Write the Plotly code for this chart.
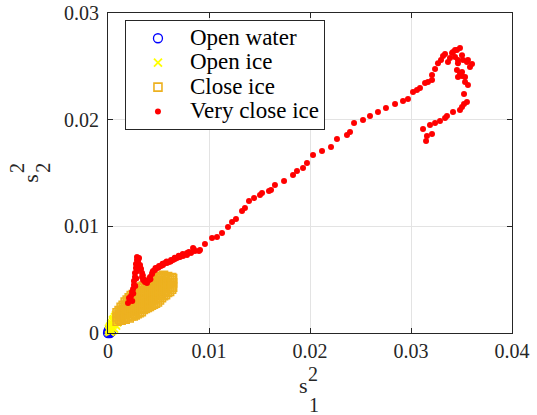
import plotly.graph_objects as go

# ---- Open water (blue circles) ----
water_x = [0.0, 0.0001, 0.0002, 0.00005, 0.0003, 0.0001, 0.0002]
water_y = [0.0, 0.0001, 0.0, 0.0002, 0.0001, 0.0003, 0.0002]

# ---- Open ice (yellow crosses) ----
open_x = [0.0001, 0.0002, 0.0003, 0.0003, 0.0004, 0.0005, 0.0005, 0.0006, 0.0007, 0.0007,
          0.0008, 0.0009, 0.0009, 0.0010, 0.0011, 0.0011, 0.0012, 0.0013, 0.0013, 0.0014,
          0.0015, 0.0004, 0.0006, 0.0002, 0.0008, 0.0010, 0.0012, 0.0014,
          0.0001, 0.0002, 0.0004, 0.0005, 0.0006, 0.0007, 0.0008, 0.0003, 0.0005]
open_y = [0.0002, 0.0004, 0.0003, 0.0006, 0.0005, 0.0008, 0.0005, 0.0010, 0.0008, 0.0012,
          0.0011, 0.0014, 0.0010, 0.0015, 0.0013, 0.0017, 0.0016, 0.0019, 0.0015, 0.0020,
          0.0018, 0.0002, 0.0004, 0.0001, 0.0007, 0.0012, 0.0013, 0.0017,
          0.0004, 0.0006, 0.0009, 0.0011, 0.0013, 0.0015, 0.0017, 0.0008, 0.0012]

# ---- Close ice (orange squares) ----
close_x = [0.0009, 0.0009, 0.0009,
           0.0011, 0.0011, 0.0011,
           0.0013, 0.0013, 0.0013, 0.0013,
           0.0015, 0.0015, 0.0015, 0.0015,
           0.0017, 0.0017, 0.0017, 0.0017, 0.0017,
           0.0019, 0.0019, 0.0019, 0.0019, 0.0019,
           0.0021, 0.0021, 0.0021, 0.0021, 0.0021, 0.0021,
           0.0023, 0.0023, 0.0023, 0.0023, 0.0023, 0.0023,
           0.0025, 0.0025, 0.0025, 0.0025, 0.0025, 0.0025,
           0.0027, 0.0027, 0.0027, 0.0027, 0.0027, 0.0027,
           0.0029, 0.0029, 0.0029, 0.0029, 0.0029, 0.0029,
           0.0031, 0.0031, 0.0031, 0.0031, 0.0031, 0.0031, 0.0031,
           0.0033, 0.0033, 0.0033, 0.0033, 0.0033, 0.0033, 0.0033,
           0.0035, 0.0035, 0.0035, 0.0035, 0.0035, 0.0035, 0.0035,
           0.0037, 0.0037, 0.0037, 0.0037, 0.0037, 0.0037,
           0.0039, 0.0039, 0.0039, 0.0039, 0.0039, 0.0039, 0.0039,
           0.0041, 0.0041, 0.0041, 0.0041, 0.0041, 0.0041,
           0.0043, 0.0043, 0.0043, 0.0043, 0.0043, 0.0043, 0.0043,
           0.0045, 0.0045, 0.0045, 0.0045, 0.0045, 0.0045, 0.0045,
           0.0047, 0.0047, 0.0047, 0.0047, 0.0047, 0.0047, 0.0047,
           0.0049, 0.0049, 0.0049, 0.0049, 0.0049, 0.0049, 0.0049,
           0.0051, 0.0051, 0.0051, 0.0051, 0.0051, 0.0051, 0.0051,
           0.0053, 0.0053, 0.0053, 0.0053, 0.0053, 0.0053,
           0.0055, 0.0055, 0.0055, 0.0055, 0.0055, 0.0055,
           0.0057, 0.0057, 0.0057, 0.0057, 0.0057,
           0.0059, 0.0059, 0.0059, 0.0059, 0.0059,
           0.0061, 0.0061, 0.0061, 0.0061,
           0.0063, 0.0063, 0.0063, 0.0063,
           0.0064, 0.0064, 0.0064]
close_y = [0.0011, 0.0015, 0.0019,
           0.0013, 0.0017, 0.0021,
           0.0012, 0.0016, 0.0020, 0.0024,
           0.0014, 0.0018, 0.0022, 0.0026,
           0.0013, 0.0017, 0.0021, 0.0025, 0.0029,
           0.0015, 0.0019, 0.0023, 0.0027, 0.0031,
           0.0014, 0.0018, 0.0022, 0.0026, 0.0030, 0.0033,
           0.0016, 0.0020, 0.0024, 0.0028, 0.0032, 0.0035,
           0.0016, 0.0020, 0.0024, 0.0028, 0.0032, 0.0036,
           0.0017, 0.0021, 0.0025, 0.0029, 0.0033, 0.0037,
           0.0018, 0.0022, 0.0026, 0.0030, 0.0034, 0.0038,
           0.0019, 0.0023, 0.0027, 0.0031, 0.0035, 0.0039, 0.0042,
           0.0020, 0.0024, 0.0028, 0.0032, 0.0036, 0.0040, 0.0043,
           0.0022, 0.0026, 0.0030, 0.0034, 0.0038, 0.0042, 0.0044,
           0.0023, 0.0027, 0.0031, 0.0035, 0.0039, 0.0043,
           0.0024, 0.0028, 0.0032, 0.0036, 0.0040, 0.0044, 0.0046,
           0.0025, 0.0029, 0.0033, 0.0037, 0.0041, 0.0045,
           0.0026, 0.0030, 0.0034, 0.0038, 0.0042, 0.0046, 0.0049,
           0.0027, 0.0031, 0.0035, 0.0039, 0.0043, 0.0047, 0.0050,
           0.0028, 0.0032, 0.0036, 0.0040, 0.0044, 0.0048, 0.0051,
           0.0029, 0.0033, 0.0037, 0.0041, 0.0045, 0.0049, 0.0052,
           0.0031, 0.0035, 0.0039, 0.0043, 0.0047, 0.0051, 0.0053,
           0.0033, 0.0037, 0.0041, 0.0045, 0.0049, 0.0053,
           0.0035, 0.0039, 0.0043, 0.0047, 0.0051, 0.0054,
           0.0036, 0.0040, 0.0044, 0.0048, 0.0052,
           0.0038, 0.0042, 0.0046, 0.0050, 0.0053,
           0.0039, 0.0043, 0.0047, 0.0051,
           0.0041, 0.0045, 0.0049, 0.0052,
           0.0043, 0.0047, 0.0051]

# ---- Very close ice (red dots) ----
vclose_x = [
    # dense start near the origin
    0.00198, 0.00208, 0.00218, 0.00228, 0.00238, 0.00248, 0.00257, 0.00257, 0.00267, 0.00267,
    0.00277, 0.00277, 0.00287, 0.00287, 0.00307, 0.00297, 0.00317, 0.00327, 0.00337, 0.00337,
    0.00347, 0.00366, 0.00386, 0.00406, 0.00416, 0.00436, 0.00446, 0.00465, 0.00485, 0.00505,
    0.00525, 0.00545, 0.00564, 0.00584, 0.00604, 0.00624, 0.00644, 0.00663, 0.00683, 0.00703,
    0.00743, 0.00782, 0.00822, 0.00861, 0.00901,
    0.00240, 0.00250, 0.00270, 0.00280, 0.00285, 0.00300, 0.00300, 0.00320, 0.00345, 0.00360,
    0.00390, 0.00420, 0.00440, 0.00470, 0.00500, 0.00540, 0.00580, 0.00620, 0.00660, 0.00700,
    0.00740, 0.00800, 0.00850,
    # sparse diagonal
    0.00713, 0.00782, 0.00842, 0.00911, 0.00960, 0.01030, 0.01079, 0.01129, 0.01188, 0.01228,
    0.01267, 0.01327, 0.01356, 0.01396, 0.01446, 0.01505, 0.01525, 0.01594, 0.01614, 0.01653,
    0.01743, 0.01832, 0.01871, 0.01931, 0.01970, 0.02030, 0.02119, 0.02208, 0.02267, 0.02366,
    0.02396, 0.02436, 0.02525, 0.02594, 0.02673, 0.02752, 0.02842, 0.02921,
    # upper loop
    0.02970, 0.03020, 0.03059, 0.03089, 0.03139, 0.03168, 0.03208, 0.03208, 0.03238, 0.03267,
    0.03297, 0.03317, 0.03337, 0.03406, 0.03416, 0.03455, 0.03485, 0.03436, 0.03465, 0.03515,
    0.03564, 0.03584, 0.03465, 0.03485, 0.03505, 0.03535, 0.03535, 0.03564, 0.03525, 0.03554,
    0.03525, 0.03505, 0.03485, 0.03416, 0.03356, 0.03337, 0.03287, 0.03238, 0.03188, 0.03119,
    0.03208, 0.03158, 0.03149,
    0.03386, 0.03436, 0.03366, 0.03505, 0.03554, 0.03455, 0.03505, 0.03465, 0.03604,
]
vclose_y = [
    0.00281, 0.00328, 0.00309, 0.00347, 0.00384, 0.00412, 0.00450, 0.00487, 0.00525, 0.00562,
    0.00609, 0.00647, 0.00684, 0.00712, 0.00703, 0.00665, 0.00637, 0.00600, 0.00562, 0.00525,
    0.00497, 0.00478, 0.00469, 0.00497, 0.00525, 0.00553, 0.00581, 0.00590, 0.00609, 0.00628,
    0.00628, 0.00637, 0.00656, 0.00656, 0.00665, 0.00684, 0.00684, 0.00694, 0.00703, 0.00712,
    0.00722, 0.00731, 0.00750, 0.00769, 0.00769,
    0.00300, 0.00370, 0.00440, 0.00510, 0.00580, 0.00640, 0.00690, 0.00610, 0.00540, 0.00500,
    0.00490, 0.00505, 0.00570, 0.00610, 0.00615, 0.00650, 0.00670, 0.00670, 0.00705, 0.00725,
    0.00740, 0.00760, 0.00785,
    0.00712, 0.00750, 0.00797, 0.00778, 0.00834, 0.00890, 0.00900, 0.00937, 0.00993, 0.01040,
    0.01068, 0.01143, 0.01172, 0.01237, 0.01265, 0.01293, 0.01312, 0.01331, 0.01340, 0.01387,
    0.01425, 0.01481, 0.01518, 0.01546, 0.01593, 0.01668, 0.01706, 0.01743, 0.01818, 0.01856,
    0.01884, 0.01968, 0.01996, 0.02034, 0.02071, 0.02109, 0.02146, 0.02174,
    0.02193, 0.02259, 0.02277, 0.02296, 0.02343, 0.02352, 0.02371, 0.02418, 0.02474, 0.02530,
    0.02559, 0.02596, 0.02615, 0.02624, 0.02634, 0.02652, 0.02671, 0.02587, 0.02559, 0.02559,
    0.02559, 0.02493, 0.02530, 0.02437, 0.02409, 0.02399, 0.02352, 0.02324, 0.02240, 0.02165,
    0.02146, 0.02118, 0.02090, 0.02071, 0.02034, 0.02015, 0.01987, 0.01968, 0.01949, 0.01912,
    0.01865, 0.01846, 0.01799,
    0.02577, 0.02652, 0.02540, 0.02605, 0.02540, 0.02465, 0.02446, 0.02399, 0.02521,
]

x_ticks = [0, 0.01, 0.02, 0.03, 0.04]
x_tick_labels = ["0", "0.01", "0.02", "0.03", "0.04"]
y_ticks = [0, 0.01, 0.02, 0.03]
y_tick_labels = ["0", "0.01", "0.02", "0.03"]

SERIF = "Times New Roman, Liberation Serif, serif"
INK = "#262626"


def legend_name(text):
    # legend font size drives the row pitch; the visible label is set larger inline
    return '<span style="font-size:23px">' + text + "</span>"


fig = go.Figure()
fig.add_trace(go.Scatter(
    x=water_x, y=water_y, mode="markers", name=legend_name("Open water"), cliponaxis=False,
    marker=dict(symbol="circle-open", size=9, color="#0000ff", line=dict(width=1.3, color="#0000ff")),
))
fig.add_trace(go.Scatter(
    x=open_x, y=open_y, mode="markers", name=legend_name("Open ice"), cliponaxis=False,
    marker=dict(symbol="x-thin", size=8, color="#ffff00", line=dict(width=1.8, color="#ffff00")),
))
fig.add_trace(go.Scatter(
    x=close_x, y=close_y, mode="markers", name=legend_name("Close ice"), cliponaxis=False,
    marker=dict(symbol="square-open", size=8, color="#edb120", line=dict(width=1.6, color="#edb120")),
))
fig.add_trace(go.Scatter(
    x=vclose_x, y=vclose_y, mode="markers", name=legend_name("Very close ice"), cliponaxis=False,
    marker=dict(symbol="circle", size=6, color="#ff0000", line=dict(width=0)),
))

axis_common = dict(
    showline=True, linecolor=INK, linewidth=1, mirror="ticks",
    ticks="inside", ticklen=5, tickcolor=INK, tickwidth=1,
    showgrid=True, gridcolor="#e3e3e3", gridwidth=1, zeroline=False,
    tickfont=dict(family=SERIF, size=20, color=INK), automargin=False,
)

fig.update_layout(
    width=537, height=415,
    margin=dict(l=108, r=25, t=13, b=82, pad=0),
    paper_bgcolor="white", plot_bgcolor="white",
    xaxis=dict(range=[0, 0.04], tickvals=x_ticks, ticktext=x_tick_labels, **axis_common),
    yaxis=dict(range=[0, 0.03], tickvals=y_ticks, ticktext=y_tick_labels,
               ticklabelstandoff=4, **axis_common),
    legend=dict(
        x=0.042, y=0.978, xanchor="left", yanchor="top",
        bgcolor="white", bordercolor=INK, borderwidth=1,
        font=dict(family=SERIF, size=16.5, color="black"),
        itemwidth=54, tracegroupgap=0,
    ),
    showlegend=True,
    annotations=[
        # x-axis title: s with stacked superscript 2 and subscript 1
        dict(text="s", xref="paper", yref="paper", x=0.485, y=-0.165, showarrow=False,
             font=dict(family=SERIF, size=22, color=INK), xanchor="center", yanchor="middle"),
        dict(text="2", xref="paper", yref="paper", x=0.507, y=-0.128, showarrow=False,
             font=dict(family=SERIF, size=20, color=INK), xanchor="center", yanchor="middle"),
        dict(text="1", xref="paper", yref="paper", x=0.510, y=-0.225, showarrow=False,
             font=dict(family=SERIF, size=20, color=INK), xanchor="center", yanchor="middle"),
        # y-axis title: s with stacked superscript 2 and subscript 2
        dict(text="s", xref="paper", yref="paper", x=-0.194, y=0.484, showarrow=False, textangle=-90,
             font=dict(family=SERIF, size=22, color=INK), xanchor="center", yanchor="middle"),
        dict(text="2", xref="paper", yref="paper", x=-0.225, y=0.516, showarrow=False, textangle=-90,
             font=dict(family=SERIF, size=20, color=INK), xanchor="center", yanchor="middle"),
        dict(text="2", xref="paper", yref="paper", x=-0.161, y=0.516, showarrow=False, textangle=-90,
             font=dict(family=SERIF, size=20, color=INK), xanchor="center", yanchor="middle"),
    ],
)

fig.write_html("out.html")
